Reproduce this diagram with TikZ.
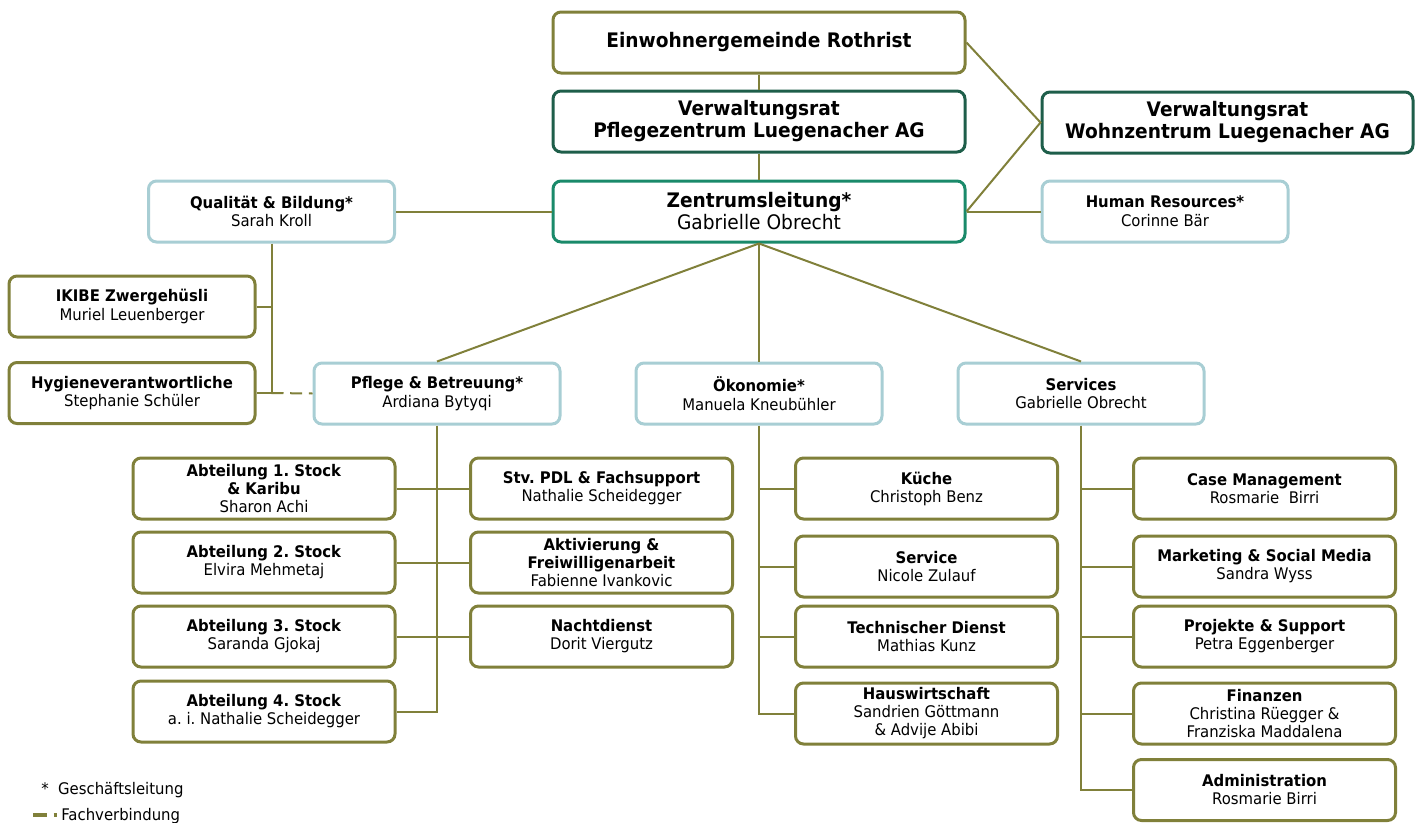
\documentclass[tikz,border=0pt]{standalone}
\usepackage{fontspec}
\setmainfont{DejaVu Sans}[FakeStretch=0.93]
\definecolor{lgOlive}{RGB}{128,128,58}
\definecolor{lgDark}{RGB}{30,94,74}
\definecolor{lgTeal}{RGB}{26,138,106}
\definecolor{lgBlue}{RGB}{168,206,212}
\frenchspacing
\tikzset{
  box/.style={rectangle, rounded corners=6pt, line width=2.25pt, fill=white, align=center, inner sep=1pt},
  bigbox/.style={box, minimum width=309pt, minimum height=45.75pt, font=\fontsize{15}{16.5}\selectfont},
  smallbox/.style={box, minimum width=184.5pt, minimum height=45.75pt, font=\fontsize{12}{14}\selectfont},
  unitbox/.style={box, draw=lgOlive, minimum width=196.5pt, minimum height=45.75pt, font=\fontsize{12}{13.5}\selectfont},
  link/.style={draw=lgOlive, line width=1.5pt},
  legend/.style={inner sep=0pt, font=\fontsize{12}{13}\selectfont},
}
\begin{document}
\begin{tikzpicture}[x=0.75pt,y=-0.75pt]
	\useasboundingbox (0,0) rectangle (1424,822);

	% Leitung
	\node[bigbox, draw=lgOlive] (einw) at (759,42.5) {\textbf{Einwohnergemeinde Rothrist}};
	\node[bigbox, draw=lgDark] (vrpz) at (759,121.5) {\textbf{Verwaltungsrat}\\\textbf{Pflegezentrum Luegenacher AG}};
	\node[bigbox, draw=lgDark, minimum width=278.25pt] (vrwz) at (1227.5,122.5) {\textbf{Verwaltungsrat}\\\textbf{Wohnzentrum Luegenacher AG}};
	\node[bigbox, draw=lgTeal] (zl) at (759,211.5) {\textbf{Zentrumsleitung*}\\Gabrielle Obrecht};
	\node[smallbox, draw=lgBlue] (qb) at (271.5,211.5) {\textbf{Qualität \& Bildung*}\\Sarah Kroll};
	\node[smallbox, draw=lgBlue] (hr) at (1165,211.5) {\textbf{Human Resources*}\\Corinne Bär};
	\node[smallbox, draw=lgOlive] (ikibe) at (132,306.5) {\textbf{IKIBE Zwergehüsli}\\Muriel Leuenberger};
	\node[smallbox, draw=lgOlive] (hyg) at (132,393) {\textbf{Hygieneverantwortliche}\\Stephanie Schüler};

	% Bereiche
	\node[smallbox, draw=lgBlue] (pb) at (437,393.5) {\textbf{Pflege \& Betreuung*}\\Ardiana Bytyqi};
	\node[smallbox, draw=lgBlue] (oek) at (759,393.5) {\textbf{Ökonomie*}\\Manuela Kneubühler};
	\node[smallbox, draw=lgBlue] (serv) at (1081,393.5) {\textbf{Services}\\Gabrielle Obrecht};

	% Pflege & Betreuung
	\node[unitbox] (abt1) at (264,488.5) {\textbf{Abteilung 1. Stock}\\\textbf{\& Karibu}\\Sharon Achi};
	\node[unitbox] (abt2) at (264,562.5) {\textbf{Abteilung 2. Stock}\\Elvira Mehmetaj};
	\node[unitbox] (abt3) at (264,636.5) {\textbf{Abteilung 3. Stock}\\Saranda Gjokaj};
	\node[unitbox] (abt4) at (264,711.5) {\textbf{Abteilung 4. Stock}\\a. i. Nathalie Scheidegger};
	\node[unitbox] (stv) at (601.5,488.5) {\textbf{Stv. PDL \& Fachsupport}\\Nathalie Scheidegger};
	\node[unitbox] (akt) at (601.5,562.5) {\textbf{Aktivierung \&}\\\textbf{Freiwilligenarbeit}\\Fabienne Ivankovic};
	\node[unitbox] (nacht) at (601.5,636.5) {\textbf{Nachtdienst}\\Dorit Viergutz};

	% Oekonomie
	\node[unitbox] (kueche) at (926.5,488.5) {\textbf{Küche}\\Christoph Benz};
	\node[unitbox] (service) at (926.5,566.5) {\textbf{Service}\\Nicole Zulauf};
	\node[unitbox] (tech) at (926.5,636.5) {\textbf{Technischer Dienst}\\Mathias Kunz};
	\node[unitbox] (hausw) at (926.5,713.5) {\textbf{Hauswirtschaft}\\Sandrien Göttmann\\\& Advije Abibi};

	% Services
	\node[unitbox] (case) at (1264.5,488.5) {\textbf{Case Management}\\Rosmarie\ \ Birri};
	\node[unitbox] (mark) at (1264.5,566.5) {\textbf{Marketing \& Social Media}\\Sandra Wyss};
	\node[unitbox] (proj) at (1264.5,636.5) {\textbf{Projekte \& Support}\\Petra Eggenberger};
	\node[unitbox] (fin) at (1264.5,713.5) {\textbf{Finanzen}\\Christina Rüegger \&\\Franziska Maddalena};
	\node[unitbox] (adm) at (1264.5,790) {\textbf{Administration}\\Rosmarie Birri};

	\draw[link] (einw) -- (vrpz);
	\draw[link] (vrpz) -- (zl);
	\draw[link] (einw.east) -- (vrwz.west) -- (zl.east);
	\draw[link] (qb.east) -- (zl.west);
	\draw[link] (zl.east) -- (hr.west);
	\draw[link] (zl.south) -- (pb.north);
	\draw[link] (zl.south) -- (oek.north);
	\draw[link] (zl.south) -- (serv.north);

	\draw[link] (qb.south) -- (qb.south |- hyg.east) -- (hyg.east);
	\draw[link] (ikibe.east) -- (qb.south |- ikibe.east);
	\draw[link, dash pattern=on 9pt off 5pt] (qb.south |- hyg.east) -- (pb.west);

	\draw[link] (pb.south) -- (pb.south |- abt4.east) -- (abt4.east);
	\draw[link] (abt1.east) -- (stv.west);
	\draw[link] (abt2.east) -- (akt.west);
	\draw[link] (abt3.east) -- (nacht.west);

	\draw[link] (oek.south) -- (oek.south |- hausw.west) -- (hausw.west);
	\foreach \n in {kueche,service,tech}
		\draw[link] (oek.south |- \n.west) -- (\n.west);

	\draw[link] (serv.south) -- (serv.south |- adm.west) -- (adm.west);
	\foreach \n in {case,mark,proj,fin}
		\draw[link] (serv.south |- \n.west) -- (\n.west);

	% Legende
	\node[legend, anchor=base west] (lgGL) at (41,794) {*\ \ Geschäftsleitung};
	\node[legend, anchor=base west] (lgFV) at (61,820) {Fachverbindung};
	\coordinate (lgDash) at (33,815);
	\draw[link, line width=2.5pt, dash pattern=on 10.5pt off 5pt, shorten >=3pt] (lgDash) -- (lgFV.west |- lgDash);
\end{tikzpicture}
\end{document}
